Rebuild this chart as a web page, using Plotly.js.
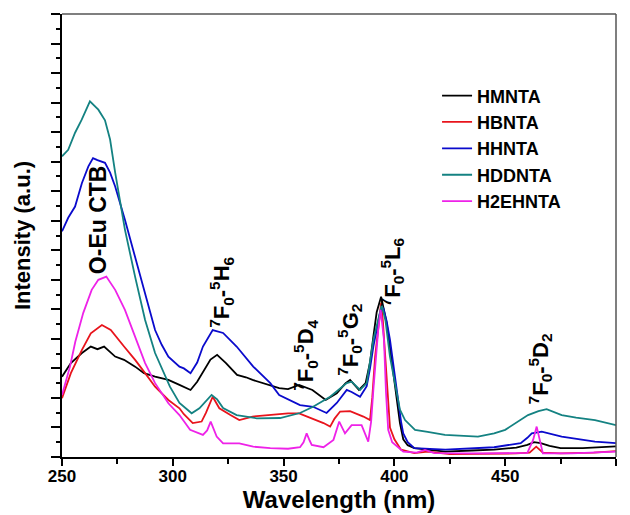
<!DOCTYPE html>
<html><head><meta charset="utf-8">
<script src="https://cdn.plot.ly/plotly-3.0.1.min.js"></script>
<style>html,body{margin:0;padding:0;background:#fff}#plot{width:630px;height:515px}</style>
</head><body><div id="plot"></div>
<script>
// Wavelength (nm) and intensity (a.u.)
const HMNTA_x = [250,254,259,263,266,269,274,278,283,287,292,298,303,308,311,314,317,320,324,329,333,336,344,348,352,357,363,369,374,378,380,384,387,389,390.5,392,394,396.5,398,399.5,401,402.5,404,406,409,415,423,435,445,455,460,463,466,470,475,485,490,500];
const HMNTA_y = [2.72,3.18,3.52,3.74,3.65,3.74,3.4,3.29,3.06,2.84,2.72,2.61,2.44,2.27,2.55,2.95,3.3,3.46,3.18,2.78,2.7,2.61,2.44,2.33,2.3,2.44,2.27,1.93,2.16,2.5,2.61,2.27,2.5,3.2,4.08,4.9,5.43,4.54,3.7,2.84,2.0,1.15,0.6,0.4,0.3,0.25,0.18,0.22,0.25,0.32,0.41,0.5,0.47,0.38,0.3,0.3,0.32,0.36];

const HBNTA_x = [250,254,259,263,268,272,278,283,287.5,292,298,303,305,309,313,315,318,321,326,330,336,344,352,357,363,368,371,373,375.5,380,386,389,390,391.3,393.5,394,394.8,395.8,397,398,400,403,409,415,425,440,455,461,464,467,475,490,500];
const HBNTA_y = [1.99,2.84,3.63,4.19,4.47,4.3,3.74,3.29,2.84,2.38,1.93,1.65,1.45,1.15,1.2,1.5,2.04,1.65,1.42,1.25,1.37,1.42,1.48,1.48,1.31,1.15,1.03,1.3,1.54,1.55,1.37,1.25,2.0,3.4,4.88,5.21,4.6,3.4,1.8,1.0,0.6,0.25,0.13,0.18,0.1,0.1,0.12,0.15,0.35,0.15,0.12,0.15,0.2];

const HHNTA_x = [250,252.8,255.9,259,261.9,264,266,269.4,271.7,274,278.4,283,287.5,292,295,298,303,305,308,311,313.6,318,322.7,328.8,336.3,344,348,353,357.4,363.3,369.4,374,378.5,380.7,384.5,387.5,389,390.5,393.5,395,396.5,398,401,403,404,406,409,423,445,457,460,462,466.5,475.5,490.5,500];
const HHNTA_y = [7.64,8.1,8.48,9.28,9.84,10.12,10.05,9.96,9.63,9.16,8.03,6.79,5.56,4.3,3.8,3.4,3.06,3.0,2.84,3.2,3.74,4.3,4.2,3.74,3.06,2.5,2.1,1.93,1.76,1.7,1.49,1.83,2.27,2.2,2.04,2.4,3.0,3.74,4.88,5.05,4.6,3.97,2.27,1.2,0.8,0.5,0.3,0.25,0.33,0.47,0.65,0.8,0.86,0.69,0.52,0.47];

const HDDNTA_x = [250,252.8,255.9,258.9,262.6,266.4,269.4,271.7,274,278.4,283,287.5,292,296.5,298.7,303,308.5,312,317.5,320,322.7,328.8,337.9,348.4,352,357.4,363.3,371,378.5,380.7,384.5,387.5,390.5,393.5,394.3,396,398,400,402.5,404.8,409.3,415,422.8,437.7,445,450,455,460.3,465,468.7,475.5,482,490.5,500];
const HDDNTA_y = [10.18,10.4,10.98,11.42,12.04,11.76,11.4,10.75,9.63,7.7,6.1,4.64,3.52,2.72,2.38,1.83,1.48,1.65,2.1,1.95,1.66,1.42,1.31,1.32,1.38,1.49,1.7,2.04,2.5,2.55,2.27,2.5,3.97,4.98,5.15,4.6,3.4,2.6,1.6,1.25,0.92,0.85,0.75,0.69,0.8,0.92,1.15,1.42,1.55,1.62,1.42,1.33,1.25,1.08];

const H2EHNTA_x = [250,253.6,256,259.6,263.4,266.4,270,272,274,278.4,283,287.5,292,298,303,307.8,313.6,315.5,317.1,318.5,319.8,322.7,330,336.3,344,352,357.4,359,360.4,361.8,362.7,368,372.5,375.1,377.7,380.7,385.2,388.2,389.5,390.5,392.7,393.8,395.3,396.2,397.2,399,401.6,404,410,413.8,418,440,460,462.6,464.2,465.7,467,480,500];
const H2EHNTA_y = [2.1,3.06,3.9,4.88,5.66,6.0,6.11,5.9,5.66,4.98,4.08,3.18,2.5,1.82,1.42,0.92,0.75,0.9,1.2,0.9,0.69,0.46,0.46,0.35,0.3,0.28,0.33,0.5,0.8,0.55,0.41,0.33,0.58,1.2,0.8,1.08,1.08,0.52,1.2,2.27,4.3,4.98,3.97,2.2,0.92,0.5,0.35,0.18,0.15,0.24,0.13,0.12,0.14,0.58,1.03,0.52,0.12,0.12,0.18];

const seriesNames = ['HMNTA','HBNTA','HHNTA','HDDNTA','H2EHNTA'];
const seriesX = [HMNTA_x,HBNTA_x,HHNTA_x,HDDNTA_x,H2EHNTA_x];
const seriesY = [HMNTA_y,HBNTA_y,HHNTA_y,HDDNTA_y,H2EHNTA_y];
const seriesColors = ['#000000','#e8141c','#0a0acc','#148282','#ee22e8'];

const xTicks = [250,300,350,400,450,500];

// peak labels: [wavelength, intensity, text]
const labelX = [266.2,322.2,360.1,380,398.9,465.7];
const labelY = [8.05,5.56,3.46,3.97,6.25,3.0];
const labelSize = [23,22,22,22,22,22];
const labelText = ['O-Eu CTB',
  '<sup>7</sup>F<sub>0</sub>-<sup>5</sup>H<sub>6</sub>',
  '<sup>7</sup>F<sub>0</sub>-<sup>5</sup>D<sub>4</sub>',
  '<sup>7</sup>F<sub>0</sub>-<sup>5</sup>G<sub>2</sub>',
  '<sup>7</sup>F<sub>0</sub>-<sup>5</sup>L<sub>6</sub>',
  '<sup>7</sup>F<sub>0</sub>-<sup>5</sup>D<sub>2</sub>'];

const FONT = 'Arial, "Liberation Sans", sans-serif';

const traces = seriesNames.map((n,i)=>({
  type:'scatter', mode:'lines', name:n, x:seriesX[i], y:seriesY[i],
  line:{color:seriesColors[i], width:1.8}
}));

const annotations = labelText.map((t,i)=>({
  x:labelX[i], y:labelY[i], xref:'x', yref:'y', text:t, showarrow:false,
  textangle:-90, font:{family:FONT, size:labelSize[i], color:'#000', weight:'bold'}
}));

const layout = {
  width:630, height:515,
  margin:{l:62, r:14, t:14, b:58},
  paper_bgcolor:'#fff', plot_bgcolor:'#fff',
  font:{family:FONT, weight:'bold', color:'#000'},
  showlegend:true,
  legend:{x:0.677, y:0.857, xanchor:'left', yanchor:'top', bgcolor:'rgba(0,0,0,0)',
    font:{family:FONT, size:18, weight:'bold', color:'#000'}},
  xaxis:{range:[250,500], tickvals:xTicks, ticks:'outside', ticklen:7, tickwidth:2, tickcolor:'#000',
    ticklabelstandoff:-4,
    minor:{dtick:25, ticks:'outside', ticklen:5, tickwidth:2, tickcolor:'#000', showgrid:false},
    showline:true, linewidth:2, linecolor:'#000', showgrid:false, zeroline:false,
    tickfont:{family:FONT, size:17, weight:'bold', color:'#000'},
    title:{text:'Wavelength (nm)', font:{family:FONT, size:24, weight:'bold', color:'#000'}, standoff:4}},
  yaxis:{range:[0,15], dtick:1, tick0:0, ticks:'outside', ticklen:9, tickwidth:2, tickcolor:'#000',
    minor:{dtick:0.5, ticks:'outside', ticklen:4, tickwidth:2, tickcolor:'#000', showgrid:false},
    showticklabels:false, showline:true, linewidth:2, linecolor:'#000', showgrid:false, zeroline:false,
    title:{text:'Intensity (a.u.)', font:{family:FONT, size:22, weight:'bold', color:'#000'}, standoff:14}},
  shapes:[
    {type:'line', xref:'paper', yref:'paper', x0:0, x1:1, y0:1, y1:1, line:{color:'#555', width:1.5}},
    {type:'line', xref:'paper', yref:'paper', x0:1, x1:1, y0:0, y1:1, line:{color:'#555', width:1.5}}
  ],
  annotations:annotations
};

Plotly.newPlot('plot', traces, layout, {displayModeBar:false, staticPlot:true});
</script></body></html>
